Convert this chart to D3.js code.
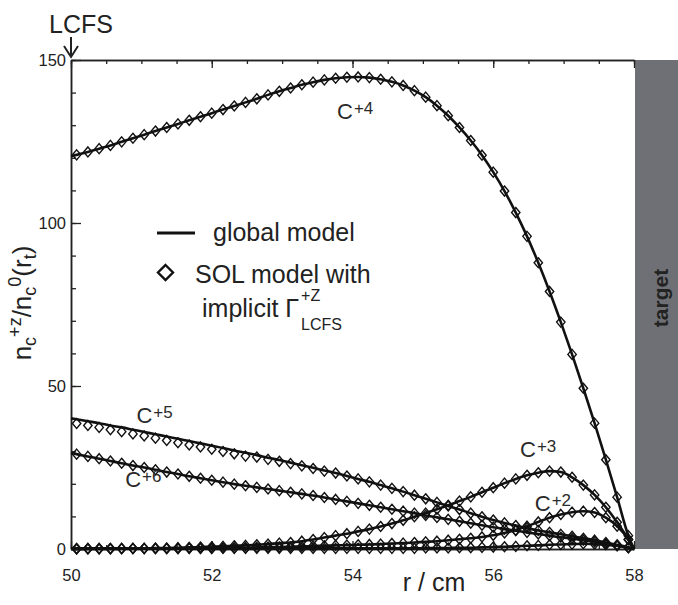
<!DOCTYPE html>
<html><head><meta charset="utf-8">
<script src="https://cdn.jsdelivr.net/npm/d3@7"></script>
<style>
body{margin:0;background:#fff;}
svg{display:block;font-family:"Liberation Sans",Arial,Helvetica,sans-serif;}
</style></head>
<body>
<svg id="chart" width="678" height="605"></svg>
<script>
// radial positions (cm): line endpoints 50 and 58, markers at interior points
const rGrid = [50, 50.08, 50.24, 50.40, 50.56, 50.72, 50.88, 51.04, 51.20, 51.36, 51.52, 51.68, 51.84,
  52.00, 52.16, 52.32, 52.48, 52.64, 52.80, 52.96, 53.12, 53.28, 53.44, 53.60, 53.76, 53.92,
  54.08, 54.24, 54.40, 54.56, 54.72, 54.88, 55.04, 55.20, 55.36, 55.52, 55.68, 55.84,
  56.00, 56.16, 56.32, 56.48, 56.64, 56.80, 56.96, 57.12, 57.28, 57.44, 57.60, 57.76, 57.92, 58];

const c4 = [120.5, 120.9, 121.8, 122.8, 123.8, 124.9, 126.0, 127.1, 128.2, 129.3, 130.4, 131.5, 132.6,
  133.7, 134.8, 135.9, 137.0, 138.1, 139.3, 140.4, 141.4, 142.4, 143.2, 143.9, 144.4, 144.7,
  144.8, 144.6, 144.1, 143.3, 142.2, 140.6, 138.6, 136.0, 132.9, 129.3, 125.3, 120.8,
  115.6, 109.8, 103.2, 95.9, 87.8, 79.0, 69.6, 59.7, 49.3, 38.6, 27.4, 15.9, 4.1, 0];

const c5 = [40.1, 39.8, 39.2, 38.6, 37.9, 37.3, 36.6, 35.9, 35.2, 34.5, 33.8, 33.1, 32.4,
  31.7, 31.0, 30.2, 29.5, 28.8, 28.0, 27.3, 26.5, 25.7, 24.9, 24.1, 23.3, 22.4,
  21.5, 20.6, 19.6, 18.6, 17.6, 16.5, 15.4, 14.3, 13.2, 12.1, 11.0, 9.9,
  8.9, 8.0, 7.2, 6.4, 5.7, 5.1, 4.5, 3.9, 3.3, 2.7, 2.0, 1.3, 0.5, 0];

// SOL-model points for C+5 sit slightly below the global-model line near the LCFS
const c5sol = [38.9, 38.5, 37.9, 37.3, 36.6, 36.0, 35.3, 34.7, 34.0, 33.3, 32.6, 31.9, 31.3,
  30.6, 29.9, 29.2, 28.5, 28.2, 27.5, 26.9, 26.2, 25.5, 24.7, 23.9, 23.3, 22.4,
  21.5, 20.6, 19.6, 18.6, 17.6, 16.5, 15.4, 14.3, 13.2, 12.1, 11.0, 9.9,
  8.9, 8.0, 7.2, 6.4, 5.7, 5.1, 4.5, 3.9, 3.3, 2.7, 2.0, 1.3, 0.5, 0];

const c6 = [29.5, 29.1, 28.4, 27.7, 27.0, 26.3, 25.6, 25.0, 24.3, 23.6, 23.0, 22.3, 21.7,
  21.1, 20.5, 19.9, 19.4, 18.9, 18.4, 17.9, 17.4, 16.9, 16.4, 15.8, 15.2, 14.6,
  14.0, 13.4, 12.8, 12.2, 11.6, 11.0, 10.3, 9.7, 9.1, 8.5, 7.9, 7.3,
  6.7, 6.1, 5.6, 5.1, 4.6, 4.1, 3.6, 3.2, 2.7, 2.2, 1.6, 1.0, 0.4, 0];

const c3 = [0.0, 0.0, 0.1, 0.1, 0.1, 0.1, 0.2, 0.2, 0.3, 0.3, 0.4, 0.5, 0.6,
  0.7, 0.8, 1.0, 1.1, 1.3, 1.5, 1.8, 2.0, 2.4, 2.9, 3.5, 4.1, 4.7,
  5.4, 6.1, 6.9, 7.8, 8.8, 9.9, 11.0, 12.2, 13.4, 14.7, 16.0, 17.4,
  18.8, 20.2, 21.5, 22.6, 23.4, 23.9, 23.6, 22.0, 19.6, 16.6, 12.8, 8.2, 2.9, 0];

const c2 = [0.0, 0.0, 0.0, 0.0, 0.0, 0.1, 0.1, 0.1, 0.1, 0.1, 0.1, 0.2, 0.2,
  0.2, 0.3, 0.3, 0.4, 0.5, 0.6, 0.6, 0.7, 0.8, 0.9, 1.0, 1.1, 1.2,
  1.3, 1.4, 1.5, 1.7, 1.8, 2.0, 2.2, 2.4, 2.7, 3.0, 3.3, 3.7,
  4.2, 4.9, 5.8, 7.0, 8.3, 9.6, 10.6, 11.3, 11.6, 11.2, 9.6, 7.0, 2.9, 0];

const c1 = [0.2, 0.2, 0.2, 0.2, 0.2, 0.2, 0.2, 0.2, 0.2, 0.2, 0.2, 0.2, 0.2,
  0.2, 0.2, 0.2, 0.2, 0.2, 0.2, 0.2, 0.2, 0.2, 0.2, 0.2, 0.2, 0.2,
  0.2, 0.2, 0.2, 0.2, 0.2, 0.2, 0.3, 0.3, 0.3, 0.4, 0.4, 0.5,
  0.6, 0.7, 0.8, 1.0, 1.1, 1.3, 1.4, 1.5, 1.6, 1.5, 1.3, 1.0, 0.4, 0];

const xMajorTicks = [50, 52, 54, 56, 58];
const yMajorTicks = [0, 50, 100, 150];
const seriesLabels = [
  {base: "C", sup: "+4", r: 53.78, v: 132},
  {base: "C", sup: "+5", r: 50.93, v: 38.5},
  {base: "C", sup: "+6", r: 50.77, v: 19},
  {base: "C", sup: "+3", r: 56.38, v: 28.2},
  {base: "C", sup: "+2", r: 56.59, v: 11.7}
];

const svg = d3.select("#chart");
const x = d3.scaleLinear().domain([50, 58]).range([71, 634]);
const y = d3.scaleLinear().domain([0, 150]).range([549, 60]);
const ink = "#222";

// target region
svg.append("rect").attr("x", x(58) + 1).attr("y", y(150)).attr("width", 678 - x(58) - 1)
  .attr("height", y(0) - y(150)).attr("fill", "#6e7075");
svg.append("text").attr("transform", `translate(668,298) rotate(-90)`)
  .attr("text-anchor", "middle").attr("font-size", 21).attr("font-weight", "bold")
  .attr("fill", "#222").text("target");

// axes (inner ticks)
const minorX = d3.range(50, 58.01, 0.5);
const minorY = d3.range(0, 150.1, 10);
function styleAxis(g) {
  g.selectAll("path.domain").attr("stroke", ink).attr("stroke-width", 1.5);
  g.selectAll(".tick line").attr("stroke", ink).attr("stroke-width", 1.3);
}
svg.append("g").attr("transform", `translate(0,${y(0)})`)
  .call(d3.axisTop(x).tickValues(minorX).tickSize(4).tickFormat("").tickSizeOuter(0)).call(styleAxis);
svg.append("g").attr("transform", `translate(0,${y(0)})`)
  .call(d3.axisTop(x).tickValues(xMajorTicks).tickSize(8).tickFormat("").tickSizeOuter(0)).call(styleAxis);
svg.append("g").attr("transform", `translate(0,${y(150)})`)
  .call(d3.axisBottom(x).tickValues(minorX).tickSize(4).tickFormat("").tickSizeOuter(0)).call(styleAxis);
svg.append("g").attr("transform", `translate(0,${y(150)})`)
  .call(d3.axisBottom(x).tickValues(xMajorTicks).tickSize(8).tickFormat("").tickSizeOuter(0)).call(styleAxis);
svg.append("g").attr("transform", `translate(${x(50)},0)`)
  .call(d3.axisRight(y).tickValues(minorY).tickSize(5).tickFormat("").tickSizeOuter(0)).call(styleAxis);
svg.append("g").attr("transform", `translate(${x(50)},0)`)
  .call(d3.axisRight(y).tickValues(yMajorTicks).tickSize(10).tickFormat("").tickSizeOuter(0)).call(styleAxis);

// tick labels
const xl = svg.append("g").attr("transform", `translate(0,${y(0)})`)
  .call(d3.axisBottom(x).tickValues(xMajorTicks).tickSize(0).tickPadding(20).tickFormat(d3.format("d")));
xl.select("path.domain").remove();
xl.selectAll("text").attr("font-size", 16.5).attr("fill", ink).attr("font-family", null);
const yl = svg.append("g").attr("transform", `translate(${x(50)},0)`)
  .call(d3.axisLeft(y).tickValues(yMajorTicks).tickSize(0).tickPadding(5).tickFormat(d3.format("d")));
yl.select("path.domain").remove();
yl.selectAll("text").attr("font-size", 16.5).attr("fill", ink).attr("font-family", null);

// axis titles
svg.append("text").attr("x", 434).attr("y", 591).attr("text-anchor", "middle")
  .attr("font-size", 25).attr("fill", ink).text("r / cm");
const yt = svg.append("text").attr("transform", "translate(31,303) rotate(-90)")
  .attr("text-anchor", "middle").attr("font-size", 26).attr("fill", ink);
yt.append("tspan").text("n");
yt.append("tspan").attr("font-size", 18).attr("dy", 5).text("c");
yt.append("tspan").attr("font-size", 18).attr("dy", -15).text("+z");
yt.append("tspan").attr("dy", 10).text("/n");
yt.append("tspan").attr("font-size", 18).attr("dy", 5).text("c");
yt.append("tspan").attr("font-size", 18).attr("dy", -15).text("0");
yt.append("tspan").attr("dy", 10).text("(r");
yt.append("tspan").attr("font-size", 18).attr("dy", 5).text("t");
yt.append("tspan").attr("dy", -5).text(")");

// LCFS marker
svg.append("text").attr("x", 49).attr("y", 33).attr("font-size", 25).attr("fill", ink).text("LCFS");
svg.append("path").attr("d", `M${x(50)},37V57M${x(50) - 7},46L${x(50)},57L${x(50) + 7},46`)
  .attr("fill", "none").attr("stroke", ink).attr("stroke-width", 2);

// curves
const lineGen = d3.line().x((d, i) => x(rGrid[i])).y(d => y(d)).curve(d3.curveMonotoneX);
const series = [
  {line: c1, pts: c1}, {line: c2, pts: c2}, {line: c3, pts: c3},
  {line: c6, pts: c6}, {line: c5, pts: c5sol}, {line: c4, pts: c4}
];
const gLines = svg.append("g");
const gPts = svg.append("g");
const diamond = "M0,-5L4.2,0L0,5L-4.2,0Z";
series.forEach(s => {
  gLines.append("path").attr("d", lineGen(s.line)).attr("fill", "none")
    .attr("stroke", "#111").attr("stroke-width", 2.6).attr("stroke-linejoin", "round");
  const pts = s.pts.map((v, i) => ({r: rGrid[i], v})).slice(1, -1);
  gPts.selectAll(null).data(pts).enter().append("path")
    .attr("d", diamond).attr("transform", d => `translate(${x(d.r)},${y(d.v)})`)
    .attr("fill", "none").attr("stroke", "#111").attr("stroke-width", 1.4);
});

// series labels
seriesLabels.forEach(l => {
  const t = svg.append("text").attr("x", x(l.r)).attr("y", y(l.v)).attr("font-size", 22).attr("fill", "#2a2a2a");
  t.append("tspan").text(l.base);
  t.append("tspan").attr("font-size", 17).attr("dy", -5).attr("dx", 1).text(l.sup);
});

// legend
svg.append("line").attr("x1", 157).attr("x2", 195).attr("y1", 233).attr("y2", 233)
  .attr("stroke", "#111").attr("stroke-width", 3);
svg.append("text").attr("x", 213).attr("y", 241).attr("font-size", 25).attr("fill", ink).text("global model");
svg.append("path").attr("d", "M0,-7.5L7.5,0L0,7.5L-7.5,0Z").attr("transform", "translate(165.5,272.5)")
  .attr("fill", "none").attr("stroke", "#111").attr("stroke-width", 2.4);
svg.append("text").attr("x", 195).attr("y", 283).attr("font-size", 25).attr("fill", ink).text("SOL model with");
const imp = svg.append("text").attr("x", 202).attr("y", 317).attr("font-size", 25).attr("fill", ink).text("implicit \u0393");
const ix = 202 + imp.node().getComputedTextLength() + 2;
svg.append("text").attr("x", ix).attr("y", 301).attr("font-size", 16).attr("fill", ink).text("+Z");
svg.append("text").attr("x", ix).attr("y", 330).attr("font-size", 16).attr("fill", ink).text("LCFS");
</script>
</body></html>
